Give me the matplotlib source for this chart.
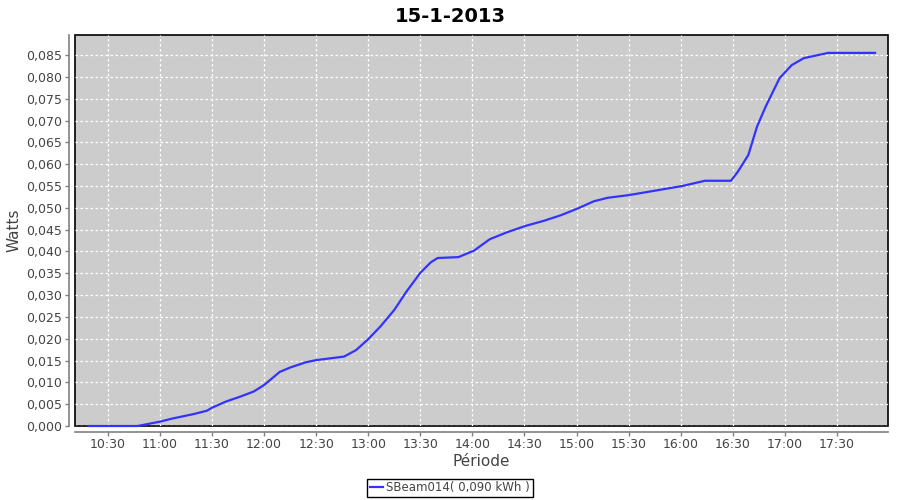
import matplotlib
matplotlib.use("Agg")
import matplotlib.pyplot as plt
import matplotlib.dates as mdates
import matplotlib.ticker as mticker
from datetime import datetime

# readings of 15-1-2013 (time, cumulative value)
times = ["10:19", "10:47", "11:00", "11:07", "11:19", "11:27", "11:30", "11:38",
         "11:46", "11:54", "12:00", "12:09", "12:15", "12:24", "12:30", "12:36",
         "12:46", "12:53", "13:00", "13:07", "13:15", "13:22", "13:30", "13:36",
         "13:40", "13:52", "14:01", "14:10", "14:20", "14:31", "14:41", "14:51",
         "15:01", "15:10", "15:18", "15:30", "16:01", "16:14", "16:29", "16:33",
         "16:39", "16:44", "16:49", "16:57", "17:04", "17:11", "17:25", "17:52"]
watts = [0.0000, 0.0000, 0.0010, 0.0017, 0.0027, 0.0035, 0.0042, 0.0056,
         0.0067, 0.0079, 0.0094, 0.0124, 0.0134, 0.0146, 0.0151, 0.0154,
         0.0159, 0.0174, 0.0199, 0.0228, 0.0266, 0.0308, 0.0351, 0.0375,
         0.0385, 0.0387, 0.0402, 0.0428, 0.0444, 0.0459, 0.0470, 0.0483,
         0.0499, 0.0515, 0.0523, 0.0529, 0.0550, 0.0562, 0.0562, 0.0583,
         0.0621, 0.0686, 0.0732, 0.0797, 0.0827, 0.0843, 0.0855, 0.0855]

x = [datetime.strptime("2013-01-15 " + t, "%Y-%m-%d %H:%M") for t in times]

fig = plt.figure(figsize=(9, 5), dpi=100)
ax = fig.add_axes([0.0833, 0.148, 0.9034, 0.782])

ax.set_facecolor("#cccccc")
ax.patch.set_edgecolor("black")
ax.patch.set_linewidth(1.2)

ax.plot(x, watts, color="#3333ff", lw=1.6, label="SBeam014( 0,090 kWh )",
        clip_on=False, zorder=3)

ax.set_xlim(datetime(2013, 1, 15, 10, 11), datetime(2013, 1, 15, 17, 59, 30))
ax.set_ylim(0, 0.0896)

ax.xaxis.set_major_locator(mdates.MinuteLocator(byminute=[0, 30]))
ax.xaxis.set_major_formatter(mdates.DateFormatter("%H:%M"))
ax.yaxis.set_major_locator(mticker.MultipleLocator(0.005))
ax.yaxis.set_major_formatter(mticker.FuncFormatter(lambda v, p: f"{v:.3f}".replace(".", ",")))

ax.grid(True, color="white", linestyle=(0, (2, 2)), lw=0.9)
ax.set_axisbelow(True)

for s in ["top", "right"]:
    ax.spines[s].set_visible(False)
for s in ["left", "bottom"]:
    ax.spines[s].set_position(("outward", 4))
    ax.spines[s].set_color("#808080")
    ax.spines[s].set_linewidth(1.2)

ax.tick_params(axis="both", colors="#808080", labelcolor="#444444", labelsize=9,
               length=3, width=1, pad=2)

ax.set_xlabel("Période", fontsize=11, color="#444444", labelpad=2)
ax.set_ylabel("Watts", fontsize=11, color="#444444")
ax.yaxis.set_label_coords(-0.066, 0.5)
fig.suptitle("15-1-2013", fontsize=14, fontweight="bold", y=0.985)

leg = fig.legend(loc="center", bbox_to_anchor=(0.5, 0.024), fancybox=False,
                 edgecolor="black", framealpha=1, fontsize=8.5, handlelength=1.1,
                 borderpad=0.25, handletextpad=0.3, labelcolor="#444444")
leg.get_frame().set_linewidth(1.0)

fig.savefig("out.png", dpi=100)
